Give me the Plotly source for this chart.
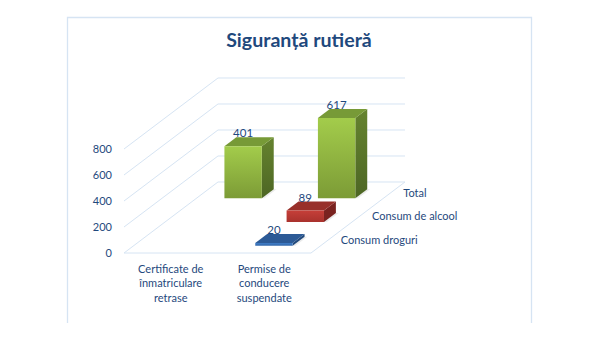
import plotly.graph_objects as go

categories = ["Certificate de<br>înmatriculare<br>retrase", "Permise de<br>conducere<br>suspendate"]
series_names = ["Consum droguri", "Consum de alcool", "Total"]
consum_droguri = [None, 20]
consum_alcool = [None, 89]
total = [401, 617]
value_ticks = [0, 200, 400, 600, 800]
series_values = [consum_droguri, consum_alcool, total]

TXT = "#1F497D"
GRID = "#D6E4F3"
FONT = "Lato"
W, H = 591, 362
X0, PX_CAT = 124.0, 93.5
Y0, PX_VAL = 253.0, 0.13
DX = 31.33 / PX_CAT          # oblique shift of one depth row, in category units
DY = 23.67 / PX_VAL          # oblique shift of one depth row, in value units
BAR_W, BAR_D = 0.4, 0.38
VMAX = value_ticks[-1]


def px(c, d):
    return c + d * DX


def py(v, d):
    return v + d * DY


palettes = [
    dict(top="#2C5A96", side="#234a7c", front=("#3F7CC6", "#3469AC")),
    dict(top="#98302A", side="#7A2320", front=("#C63F39", "#A9322D")),
    dict(top="#779A37", side=("#65832F", "#4D6624"), front=("#A3CC4B", "#7C9B36")),
]

fig = go.Figure()


def poly(xs, ys, color=None, gradient=None):
    kw = dict(x=xs + xs[:1], y=ys + ys[:1], mode="lines", fill="toself", line=dict(width=0),
              hoverinfo="skip", showlegend=False)
    if gradient:
        kw["fillgradient"] = dict(type="vertical", colorscale=[[0, gradient[1]], [1, gradient[0]]])
    else:
        kw["fillcolor"] = color
    fig.add_trace(go.Scatter(**kw))


def line(xs, ys):
    fig.add_trace(go.Scatter(x=xs, y=ys, mode="lines", line=dict(color=GRID, width=1),
                             hoverinfo="skip", showlegend=False))


# gridlines: back wall and left wall
for v in value_ticks:
    line([px(0, 0), px(0, 3), px(2, 3)], [py(v, 0), py(v, 3), py(v, 3)])
# floor
line([px(0, 0), px(2, 0), px(2, 3)], [py(0, 0), py(0, 0), py(0, 3)])

# bars, back row first so nearer rows overlap
labels = []
for row in (2, 1, 0):
    pal = palettes[row]
    d0 = row + (1 - BAR_D) / 2
    d1 = d0 + BAR_D
    for cat, val in enumerate(series_values[row]):
        if val is None:
            continue
        c0 = cat + (1 - BAR_W) / 2
        c1 = c0 + BAR_W
        # soft floor shadow
        poly([px(c1, d0), px(c1 + .03, d0), px(c1 + .03, d1), px(c1, d1)],
             [py(0, d0), py(0, d0), py(0, d1), py(0, d1)], color="rgba(120,120,120,0.15)")
        side = pal["side"]
        poly([px(c1, d0), px(c1, d1), px(c1, d1), px(c1, d0)],
             [py(0, d0), py(0, d1), py(val, d1), py(val, d0)],
             color=None if isinstance(side, tuple) else side,
             gradient=side if isinstance(side, tuple) else None)
        poly([px(c0, d0), px(c1, d0), px(c1, d1), px(c0, d1)],
             [py(val, d0), py(val, d0), py(val, d1), py(val, d1)], color=pal["top"])
        poly([px(c0, d0), px(c1, d0), px(c1, d0), px(c0, d0)],
             [py(0, d0), py(0, d0), py(val, d0), py(val, d0)], gradient=pal["front"])
        labels.append((px(cat + .5, d0), py(val, d0) + 6 / PX_VAL, val))

fig.add_trace(go.Scatter(x=[l[0] for l in labels], y=[l[1] for l in labels],
                         text=[str(l[2]) for l in labels], mode="text", textposition="top center",
                         textfont=dict(family=FONT, size=11.5, color=TXT),
                         hoverinfo="skip", showlegend=False))

# depth-axis labels
fig.add_trace(go.Scatter(x=[px(2, r + .5) + 14 / PX_CAT for r in range(3)],
                         y=[py(0, r + .5) for r in range(3)],
                         text=series_names, mode="text", textposition="middle right",
                         textfont=dict(family=FONT, size=11, color=TXT),
                         hoverinfo="skip", showlegend=False))

fig.update_layout(
    width=W, height=H,
    margin=dict(l=0, r=0, t=0, b=0),
    paper_bgcolor="white", plot_bgcolor="white", showlegend=False,
    title=dict(text="<b>Siguranță rutieră</b>", x=299 / W, xanchor="center", y=1 - 40 / H, yanchor="middle",
               font=dict(family=FONT, size=19.6, color=TXT)),
    xaxis=dict(range=[-X0 / PX_CAT, (W - X0) / PX_CAT], showgrid=False, zeroline=False, showline=False,
               tickvals=[0.5, 1.5], ticktext=categories, ticks="", anchor="free",
               position=(H - Y0 - 8) / H, tickfont=dict(family=FONT, size=11, color=TXT)),
    yaxis=dict(range=[-(H - Y0) / PX_VAL, Y0 / PX_VAL], showgrid=False, zeroline=False, showline=False,
               tickvals=value_ticks, ticks="", anchor="free", position=(X0 - 12) / W,
               tickfont=dict(family=FONT, size=11, color=TXT)),
    shapes=[dict(type="path", xref="paper", yref="paper",
                 path=f"M {67.5/W} {1-323/H} L {67.5/W} {1-17.5/H} L {531.5/W} {1-17.5/H} L {531.5/W} {1-323/H}",
                 line=dict(color=GRID, width=1.3))],
)
fig.write_html("out.html", config={"displayModeBar": False},
               post_script="document.documentElement.style.margin='0';document.body.style.margin='0';")
